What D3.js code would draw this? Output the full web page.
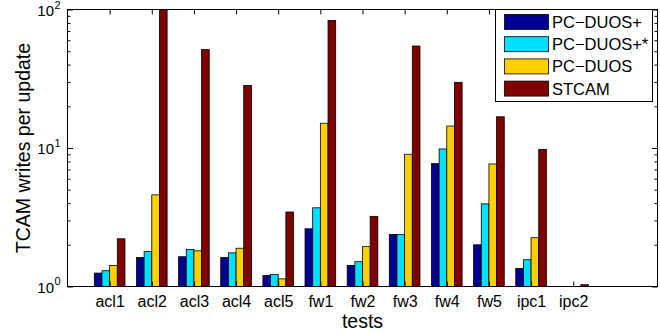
<!DOCTYPE html>
<html>
<head>
<meta charset="utf-8">
<script src="https://cdn.jsdelivr.net/npm/d3@7"></script>
<style>
  body { margin: 0; background: #fff; }
  text { font-family: "Liberation Sans", Arial, Helvetica, sans-serif; fill: #000; }
</style>
</head>
<body>
<div id="chart-container"></div>
<script>
// data
var tests = ["acl1", "acl2", "acl3", "acl4", "acl5", "fw1", "fw2", "fw3", "fw4", "fw5", "ipc1", "ipc2"];
var seriesNames = ["PC\u2212DUOS+", "PC\u2212DUOS+*", "PC\u2212DUOS", "STCAM"];
var seriesColors = ["#000090", "#00dfff", "#ffcf00", "#800000"];
var pcDuosPlus     = [1.25, 1.62, 1.64, 1.62, 1.20, 2.61, 1.42, 2.37, 7.71, 2.00, 1.35, 1.0];
var pcDuosPlusStar = [1.30, 1.79, 1.85, 1.75, 1.22, 3.70, 1.51, 2.37, 9.84, 3.95, 1.56, 1.0];
var pcDuos         = [1.42, 4.59, 1.81, 1.89, 1.135, 15.1, 1.94, 9.01, 14.4, 7.67, 2.25, 1.0];
var stcam          = [2.21, 100, 51.3, 28.3, 3.45, 83.4, 3.21, 54.5, 29.8, 16.8, 9.78, 1.03];
var yMajor = [1, 10, 100];
var yMinor = [2, 3, 4, 5, 6, 7, 8, 9, 20, 30, 40, 50, 60, 70, 80, 90];

var allSeries = [pcDuosPlus, pcDuosPlusStar, pcDuos, stcam];

var width = 660, height = 334;
// plot box edges (window.top is read-only, so no "top" here)
var pLeft = 67.5, pRight = 657.5, pTop = 9.5, pBottom = 286.5;

var svg = d3.select("#chart-container")
    .append("svg")
    .attr("width", width)
    .attr("height", height);

var xScale = d3.scaleLinear().domain([0, tests.length + 2]).range([pLeft, pRight]);
var yScale = d3.scaleLog().domain([1, 100]).range([pBottom, pTop]);

// grouped bars like matlab: group width = n/(n+1.5)
var n = allSeries.length;
var groupWidth = Math.min(0.8, n / (n + 1.5));
var barW = xScale(groupWidth / n) - xScale(0);

svg.append("clipPath").attr("id", "plotclip")
    .append("rect")
    .attr("x", pLeft).attr("y", pTop)
    .attr("width", pRight - pLeft).attr("height", pBottom - pTop);

var bars = svg.append("g").attr("clip-path", "url(#plotclip)");

allSeries.forEach(function(vals, j) {
    bars.selectAll(".bar" + j)
        .data(vals)
        .enter()
        .append("rect")
        .attr("class", "bar" + j)
        .attr("x", (d, i) => xScale(i + 1 - groupWidth / 2) + j * barW)
        .attr("y", d => yScale(d))
        .attr("width", barW)
        .attr("height", d => yScale(1) - yScale(d))
        .attr("fill", seriesColors[j])
        .attr("stroke", "#000")
        .attr("stroke-width", 0.8);
});

// axes box
svg.append("rect")
    .attr("x", pLeft).attr("y", pTop)
    .attr("width", pRight - pLeft).attr("height", pBottom - pTop)
    .attr("fill", "none")
    .attr("stroke", "#000")
    .attr("stroke-width", 1);

var tickIdx = tests.map((t, i) => i + 1);

// bottom axis, ticks pointing in
var xAxis = d3.axisBottom(xScale)
    .tickValues(tickIdx)
    .tickSizeInner(-5)
    .tickSizeOuter(0)
    .tickFormat((d, i) => tests[i]);

var gx = svg.append("g")
    .attr("transform", "translate(0," + pBottom + ")")
    .call(xAxis);
gx.select(".domain").remove();
gx.selectAll("text")
    .style("font-size", "16px")
    .attr("y", 8)
    .attr("dy", "0.75em");

// top mirror ticks
var gxTop = svg.append("g")
    .attr("transform", "translate(0," + pTop + ")")
    .call(d3.axisTop(xScale).tickValues(tickIdx).tickSizeInner(-5).tickSizeOuter(0).tickFormat(""));
gxTop.select(".domain").remove();

// y axis major + minor ticks, both sides
function yTicks(side, vals, len) {
    var ax = side === "left" ? d3.axisLeft(yScale) : d3.axisRight(yScale);
    var g = svg.append("g")
        .attr("transform", "translate(" + (side === "left" ? pLeft : pRight) + ",0)")
        .call(ax.tickValues(vals).tickSizeInner(-len).tickSizeOuter(0).tickFormat(""));
    g.select(".domain").remove();
    return g;
}
yTicks("left", yMajor, 5.5);
yTicks("left", yMinor, 3);
yTicks("right", yMajor, 5.5);
yTicks("right", yMinor, 3);

// log tick labels 10^k
var yLabels = svg.append("g");
yMajor.forEach(function(v) {
    yLabels.append("text")
        .attr("x", 54)
        .attr("y", yScale(v) + 6)
        .attr("text-anchor", "end")
        .style("font-size", "15px")
        .text("10");
    yLabels.append("text")
        .attr("x", 54.5)
        .attr("y", Math.max(yScale(v) - 1.5, 9))
        .style("font-size", "11px")
        .text(Math.round(Math.log10(v)));
});

// axis titles
svg.append("text")
    .attr("x", (pLeft + pRight) / 2)
    .attr("y", 328)
    .attr("text-anchor", "middle")
    .style("font-size", "19.5px")
    .text("tests");

svg.append("text")
    .attr("transform", "translate(29.5," + ((pTop + pBottom) / 2) + ") rotate(-90)")
    .attr("text-anchor", "middle")
    .style("font-size", "19.5px")
    .text("TCAM writes per update");

// legend
var legend = svg.append("g")
    .attr("class", "legend")
    .attr("transform", "translate(495.5,9.5)");

legend.append("rect")
    .attr("width", 157)
    .attr("height", 92)
    .attr("fill", "#fff")
    .attr("stroke", "#000")
    .attr("stroke-width", 1);

seriesNames.forEach(function(name, j) {
    var cy = 12.5 + j * 22.2;
    legend.append("rect")
        .attr("x", 9)
        .attr("y", cy - 7.5)
        .attr("width", 44)
        .attr("height", 15)
        .attr("fill", seriesColors[j])
        .attr("stroke", "#000")
        .attr("stroke-width", 0.8);
    legend.append("text")
        .attr("x", 56.5)
        .attr("y", cy + 6)
        .style("font-size", "16.5px")
        .text(name);
});
</script>
</body>
</html>
